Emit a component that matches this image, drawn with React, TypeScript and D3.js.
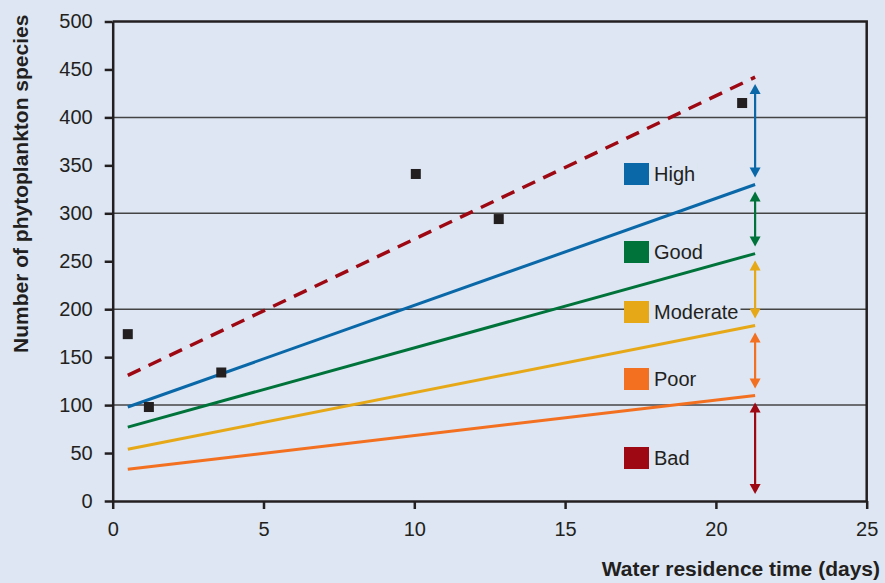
import { useEffect, useRef } from 'react';
import * as d3 from 'd3';

// Boundary lines between ecological status classes (start/end of residence time)
const lineDays = [0.5, 21.3];
const referenceLine = [131, 442];
const highGoodLine = [98, 330];
const goodModerateLine = [77, 258];
const moderatePoorLine = [54, 183];
const poorBadLine = [33, 110];

// Observed lakes
const observedDays = [0.5, 1.2, 3.6, 10.05, 12.8, 20.87];
const observedSpecies = [174, 98, 134, 341, 294, 415];

// Status classes, top to bottom
const classNames = ['High', 'Good', 'Moderate', 'Poor', 'Bad'];
const classColors = ['#0a68a8', '#00733b', '#e6a817', '#f37021', '#9e0812'];
const arrowDay = 21.3;

const xTicks = [0, 5, 10, 15, 20, 25];
const yTicks = [0, 50, 100, 150, 200, 250, 300, 350, 400, 450, 500];
const gridValues = [100, 200, 300, 400];

const W = 885;
const H = 583;
const BG = '#dde6f2';
const INK = '#231f20';
const FONT = '"Liberation Sans", Arial, Helvetica, sans-serif';

export default function App() {
  const svgRef = useRef<SVGSVGElement>(null);

  useEffect(() => {
    if (!svgRef.current) return;
    const svg = d3.select(svgRef.current);
    svg.selectAll('*').remove();

    const x = d3.scaleLinear().domain([0, 25]).range([112.7, 866.7]);
    const y = d3.scaleLinear().domain([0, 500]).range([501, 21.5]);

    svg.append('rect').attr('width', W).attr('height', H).attr('fill', BG);

    // Grid lines
    svg
      .append('g')
      .selectAll('line')
      .data(gridValues)
      .enter()
      .append('line')
      .attr('x1', x(0))
      .attr('x2', x(25))
      .attr('y1', (d) => y(d))
      .attr('y2', (d) => y(d))
      .attr('stroke', '#444')
      .attr('stroke-width', 1.5);

    // Top and right frame
    svg
      .append('path')
      .attr('d', `M${x(0)},${y(500)}H${x(25)}V${y(0)}`)
      .attr('fill', 'none')
      .attr('stroke', INK)
      .attr('stroke-width', 2.5);

    // Legend - each item sits on a background box that hides the grid
    const legendY = [163, 241, 301, 368, 447];
    const legend = svg.append('g').attr('font-family', FONT).attr('font-size', 20);
    classNames.forEach((name, i) => {
      const item = legend.append('g').attr('transform', `translate(624,${legendY[i]})`);
      const txt = item
        .append('text')
        .attr('x', 30)
        .attr('y', 18)
        .attr('fill', INK)
        .text(name);
      const tw = (txt.node() as SVGTextElement).getComputedTextLength();
      item
        .insert('rect', 'text')
        .attr('width', 30 + tw + 2)
        .attr('height', 22)
        .attr('fill', BG);
      item
        .insert('rect', 'text')
        .attr('width', 25)
        .attr('height', 22)
        .attr('fill', classColors[i]);
    });

    // Boundary lines
    const line = d3
      .line<number>()
      .x((_, i) => x(lineDays[i]))
      .y((d) => y(d));

    const solidLines = [
      { values: poorBadLine, color: classColors[3] },
      { values: moderatePoorLine, color: classColors[2] },
      { values: goodModerateLine, color: classColors[1] },
      { values: highGoodLine, color: classColors[0] },
    ];
    svg
      .append('g')
      .selectAll('path')
      .data(solidLines)
      .enter()
      .append('path')
      .attr('d', (d) => line(d.values))
      .attr('fill', 'none')
      .attr('stroke', (d) => d.color)
      .attr('stroke-width', 3);

    svg
      .append('path')
      .attr('d', line(referenceLine))
      .attr('fill', 'none')
      .attr('stroke', classColors[4])
      .attr('stroke-width', 3.5)
      .attr('stroke-dasharray', '14,9');

    // Observed points
    svg
      .append('g')
      .selectAll('rect')
      .data(observedDays)
      .enter()
      .append('rect')
      .attr('x', (d) => x(d) - 5)
      .attr('y', (_, i) => y(observedSpecies[i]) - 5)
      .attr('width', 10)
      .attr('height', 10)
      .attr('fill', INK);

    // Class range arrows
    const bounds = [
      referenceLine[1],
      highGoodLine[1],
      goodModerateLine[1],
      moderatePoorLine[1],
      poorBadLine[1],
      0,
    ];
    const ax = x(arrowDay);
    const pad = 7;
    const headH = 10;
    const headW = 5.5;
    const arrows = svg.append('g');
    classNames.forEach((_, i) => {
      const top = y(bounds[i]) + pad;
      const bot = y(bounds[i + 1]) - pad;
      const c = classColors[i];
      arrows
        .append('line')
        .attr('x1', ax)
        .attr('x2', ax)
        .attr('y1', top + headH - 1)
        .attr('y2', bot - headH + 1)
        .attr('stroke', c)
        .attr('stroke-width', 2.2);
      arrows
        .append('path')
        .attr('d', `M${ax},${top}L${ax - headW},${top + headH}H${ax + headW}Z`)
        .attr('fill', c);
      arrows
        .append('path')
        .attr('d', `M${ax},${bot}L${ax - headW},${bot - headH}H${ax + headW}Z`)
        .attr('fill', c);
    });

    // Axes
    const xAxis = svg
      .append('g')
      .attr('transform', `translate(0,${y(0)})`)
      .call(d3.axisBottom(x).tickValues(xTicks).tickSize(8).tickPadding(13).tickSizeOuter(0));
    const yAxis = svg
      .append('g')
      .attr('transform', `translate(${x(0)},0)`)
      .call(d3.axisLeft(y).tickValues(yTicks).tickSize(8).tickPadding(12).tickSizeOuter(0));

    [xAxis, yAxis].forEach((a) => {
      a.select('.domain').attr('stroke', INK).attr('stroke-width', 2.5);
      a.selectAll('.tick line').attr('stroke', INK).attr('stroke-width', 2.5);
      a.selectAll('.tick text')
        .attr('fill', INK)
        .attr('font-family', FONT)
        .attr('font-size', 20);
    });

    // Axis titles
    svg
      .append('text')
      .attr('x', 880)
      .attr('y', 576)
      .attr('text-anchor', 'end')
      .attr('font-family', FONT)
      .attr('font-size', 21)
      .attr('font-weight', 'bold')
      .attr('fill', INK)
      .text('Water residence time (days)');

    svg
      .append('text')
      .attr('transform', `translate(28,353) rotate(-90)`)
      .attr('text-anchor', 'start')
      .attr('font-family', FONT)
      .attr('font-size', 21)
      .attr('font-weight', 'bold')
      .attr('fill', INK)
      .text('Number of phytoplankton species');
  }, []);

  return (
    <svg
      ref={svgRef}
      width={W}
      height={H}
      style={{ position: 'absolute', left: 0, top: 0, display: 'block' }}
    />
  );
}
